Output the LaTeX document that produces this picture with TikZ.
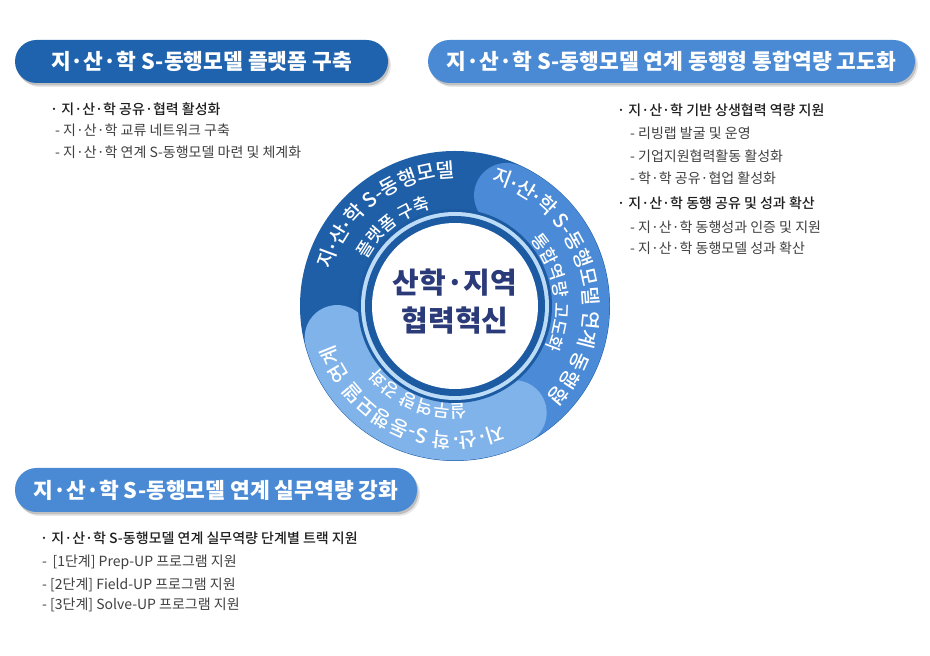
\documentclass[tikz,border=0pt]{standalone}
\usepackage{fontspec}
\usetikzlibrary{decorations.text,shadows}
\newfontfamily\kr{Noto Sans CJK KR}
\newfontfamily\latdot{Liberation Sans}
\IfFontExistsTF{Noto Sans CJK KR Medium}{\newfontfamily\krmed{Noto Sans CJK KR Medium}}{\newcommand\krmed{\kr\bfseries}}
\newcommand\ringbig{\krmed\fontsize{20}{20}\selectfont}
\newcommand\ringbigdot{\latdot\bfseries\fontsize{20}{20}\selectfont}
\newcommand\ringsmall{\krmed\fontsize{17.5}{18}\selectfont}
\definecolor{segdark}{HTML}{1F5FA8}
\definecolor{segmid}{HTML}{4A8AD6}
\definecolor{seglight}{HTML}{80B3EA}
\definecolor{paleblue}{HTML}{BCDBF6}
\definecolor{ringdark}{HTML}{1C5AA2}
\definecolor{navy}{HTML}{2B3A78}
\definecolor{pilldark}{HTML}{1F63AE}
\definecolor{pillmid}{HTML}{4A8AD4}
\begin{document}
\begin{tikzpicture}[x=1pt,y=1pt,
  pill/.style={rounded corners=21.5pt, minimum height=43pt, inner sep=0pt, text=white,
    font=\kr\bfseries\fontsize{21.5}{24}\selectfont,
    drop shadow={shadow xshift=1.5pt,shadow yshift=-2.5pt,opacity=.30,fill=black!60},
    drop shadow={shadow xshift=3pt,shadow yshift=-4pt,opacity=.15,fill=black!60}},
  headtxt/.style={anchor=west, inner sep=0pt, font=\krmed\fontsize{14}{16}\selectfont, text=black!88},
  subtxt/.style={anchor=west, inner sep=0pt, font=\kr\fontsize{14}{16}\selectfont, text=black!75},
  ringtxt/.style={decorate, decoration={text along path, text align=center, text color=white, text={#1}}},
  centertxt/.style={font=\kr\bfseries\fontsize{29}{32}\selectfont, text=navy, inner sep=0pt}
]
\useasboundingbox (0,0) rectangle (930,656);
\fill[white] (0,0) rectangle (930,656);

% ---- ring ----
\coordinate (C) at (455,350);
\fill[segdark] (C) circle[radius=155];
\draw[segmid, line width=65pt, line cap=round] ([shift={(65:122)}]C) arc[start angle=65, end angle=-75, radius=122];
\draw[seglight, line width=65pt, line cap=round] ([shift={(-61:122)}]C) arc[start angle=-61, end angle=-165, radius=122];
\fill[ringdark] (C) circle[radius=97];
\fill[paleblue] (C) circle[radius=94];
\fill[ringdark] (C) circle[radius=90];
\fill[white] (C) circle[radius=83];

\node[centertxt] (ctr1) at (455,373) {산학·지역};
\node[centertxt] (ctr2) at (455,335) {협력혁신};

% ring texts (clockwise, tops outward)
\path[ringtxt={|\ringbig|지|\ringbigdot|·|\ringbig|산|\ringbigdot|·|\ringbig|학 S-동행모델}] ([shift={(187:129)}]C) arc[start angle=187, end angle=67, radius=129];
\path[ringtxt={|\ringsmall|플랫폼 구축}] ([shift={(173:100)}]C) arc[start angle=173, end angle=83, radius=100];
\path[ringtxt={|\ringbig|지|\ringbigdot|·|\ringbig|산|\ringbigdot|·|\ringbig|학 S-동행모델 연계 동행형}] ([shift={(94.5:129)}]C) arc[start angle=94.5, end angle=-65.5, radius=129];
\path[ringtxt={|\ringsmall|통합역량 고도화}] ([shift={(68:100)}]C) arc[start angle=68, end angle=-52, radius=100];
\path[ringtxt={|\ringbig|지|\ringbigdot|·|\ringbig|산|\ringbigdot|·|\ringbig|학 S-동행모델 연계}] ([shift={(-45.5:127)}]C) arc[start angle=-45.5, end angle=-185.5, radius=127];
\path[ringtxt={|\ringsmall|실무역량 강화}] ([shift={(-57.5:99)}]C) arc[start angle=-57.5, end angle=-167.5, radius=99];

% ---- title pills ----
\node[pill, fill=pilldark, minimum width=373pt] (t1) at (201.5,594.5) {지·산·학 S-동행모델 플랫폼 구축};
\node[pill, fill=pillmid, minimum width=487pt] (t2) at (671.5,594.5) {지·산·학 S-동행모델 연계 동행형 통합역량 고도화};
\node[pill, fill=pillmid, minimum width=402pt, minimum height=44pt] (t3) at (216,166) {지·산·학 S-동행모델 연계 실무역량 강화};

% ---- lists ----
\node[headtxt] (l1h) at (50,547) {· 지·산·학 공유·협력 활성화};
\node[subtxt] (l1a) at (55,526) {- 지·산·학 교류 네트워크 구축};
\node[subtxt] (l1b) at (55,504) {- 지·산·학 연계 S-동행모델 마련 및 체계화};

\node[headtxt] (l2h) at (617,546) {· 지·산·학 기반 상생협력 역량 지원};
\node[subtxt] (l2a) at (630,523) {- 리빙랩 발굴 및 운영};
\node[subtxt] (l2b) at (630,500) {- 기업지원협력활동 활성화};
\node[subtxt] (l2c) at (630,478) {- 학·학 공유·협업 활성화};
\node[headtxt] (l2i) at (617,453) {· 지·산·학 동행 공유 및 성과 확산};
\node[subtxt] (l2d) at (630,429) {- 지·산·학 동행성과 인증 및 지원};
\node[subtxt] (l2e) at (630,408) {- 지·산·학 동행모델 성과 확산};

\node[headtxt] (l3h) at (40,118) {· 지·산·학 S-동행모델 연계 실무역량 단계별 트랙 지원};
\node[subtxt] (l3a) at (42,94) {- \,[1단계] Prep-UP 프로그램 지원};
\node[subtxt] (l3b) at (42,71) {- [2단계] Field-UP 프로그램 지원};
\node[subtxt] (l3c) at (42,51) {- [3단계] Solve-UP 프로그램 지원};
\end{tikzpicture}
\end{document}
